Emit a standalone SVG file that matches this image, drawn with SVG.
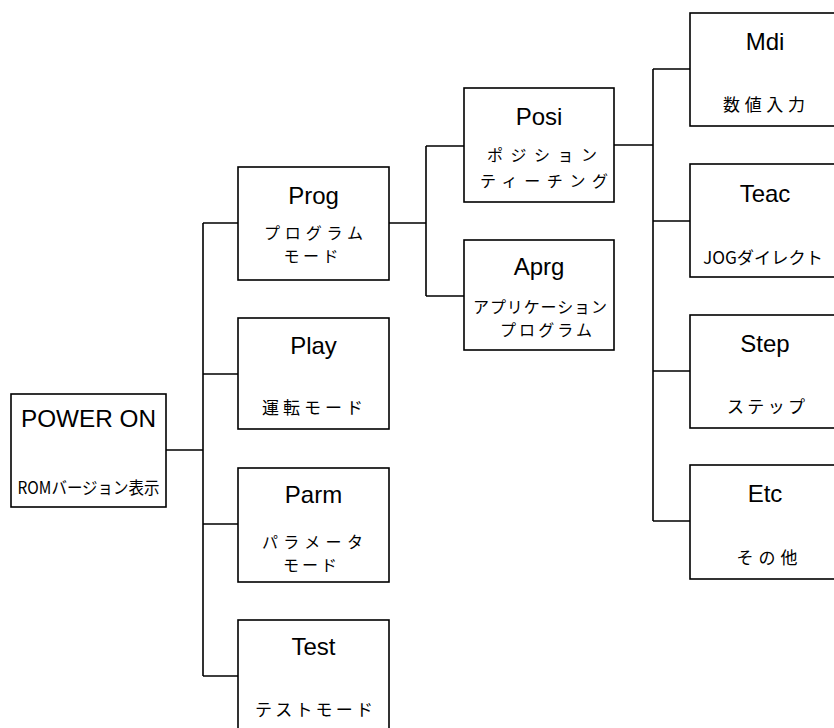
<svg xmlns="http://www.w3.org/2000/svg" width="834" height="728" viewBox="0 0 834 728">
<style>
.box{fill:#fff;stroke:#000;stroke-width:1.6}
.ln{fill:none;stroke:#000;stroke-width:1.6}
.t{font-family:"Liberation Sans","Noto Sans CJK JP",sans-serif;font-size:24px;text-anchor:middle;fill:#000}
.j{font-family:"Noto Sans CJK JP","Liberation Sans",sans-serif;font-size:16px;text-anchor:middle;fill:#000}
.s{font-size:17px}
</style>
<rect width="834" height="728" fill="#fff"/>
<g id="connectors">
<path class="ln" d="M166,450H203M203,223V676M203,223H238M203,374H238M203,524H238M203,676H238"/>
<path class="ln" d="M389,223H426M426,146V296M426,146H464M426,296H464"/>
<path class="ln" d="M614,145H653M653,69V521M653,69H690M653,221H690M653,371H690M653,521H690"/>
</g>
<g id="power">
<rect class="box" x="11" y="394" width="155" height="113"/>
<text class="t" x="88.5" y="427" font-size="23" textLength="135" lengthAdjust="spacingAndGlyphs">POWER ON</text>
<text class="j s" x="88.5" y="494" textLength="142" lengthAdjust="spacingAndGlyphs">ROMバージョン表示</text>
</g>
<g id="prog">
<rect class="box" x="238" y="167" width="151" height="113"/>
<text class="t" x="313.5" y="204">Prog</text>
<text class="j" x="313.5" y="238.5" textLength="99" lengthAdjust="spacing">プログラム</text>
<text class="j" x="311" y="262" textLength="55" lengthAdjust="spacing">モード</text>
</g>
<g id="play">
<rect class="box" x="238" y="318" width="151" height="111"/>
<text class="t" x="313.5" y="354">Play</text>
<text class="j s" x="312.5" y="414" textLength="101" lengthAdjust="spacing">運転モード</text>
</g>
<g id="parm">
<rect class="box" x="238" y="468" width="151" height="114"/>
<text class="t" x="313.5" y="503">Parm</text>
<text class="j" x="312.5" y="547.5" textLength="101" lengthAdjust="spacing">パラメータ</text>
<text class="j" x="310" y="571" textLength="54" lengthAdjust="spacing">モード</text>
</g>
<g id="test">
<rect class="box" x="238" y="620" width="151" height="114"/>
<text class="t" x="313.5" y="655">Test</text>
<text class="j s" x="314" y="716" textLength="118" lengthAdjust="spacing">テストモード</text>
</g>
<g id="posi">
<rect class="box" x="464" y="88" width="150" height="114"/>
<text class="t" x="539" y="125">Posi</text>
<text class="j" x="542" y="161" textLength="110" lengthAdjust="spacing">ポジション</text>
<text class="j" x="544" y="187" textLength="128" lengthAdjust="spacing">ティーチング</text>
</g>
<g id="aprg">
<rect class="box" x="464" y="240" width="150" height="110"/>
<text class="t" x="539" y="275">Aprg</text>
<text class="j" x="540" y="312.5" textLength="134" lengthAdjust="spacing">アプリケーション</text>
<text class="j" x="546" y="336" textLength="92" lengthAdjust="spacing">プログラム</text>
</g>
<g id="mdi">
<rect class="box" x="690" y="13" width="150" height="113"/>
<text class="t" x="765" y="50">Mdi</text>
<text class="j s" x="764" y="111" textLength="82" lengthAdjust="spacing">数値入力</text>
</g>
<g id="teac">
<rect class="box" x="690" y="164" width="150" height="113"/>
<text class="t" x="765" y="202">Teac</text>
<text class="j s" x="763" y="264" textLength="120" lengthAdjust="spacingAndGlyphs">JOGダイレクト</text>
</g>
<g id="step">
<rect class="box" x="690" y="315" width="150" height="113"/>
<text class="t" x="765" y="352">Step</text>
<text class="j s" x="766" y="413" textLength="78" lengthAdjust="spacing">ステップ</text>
</g>
<g id="etc">
<rect class="box" x="690" y="465" width="150" height="114"/>
<text class="t" x="765" y="502">Etc</text>
<text class="j s" x="767" y="564" textLength="61" lengthAdjust="spacing">その他</text>
</g>
</svg>
